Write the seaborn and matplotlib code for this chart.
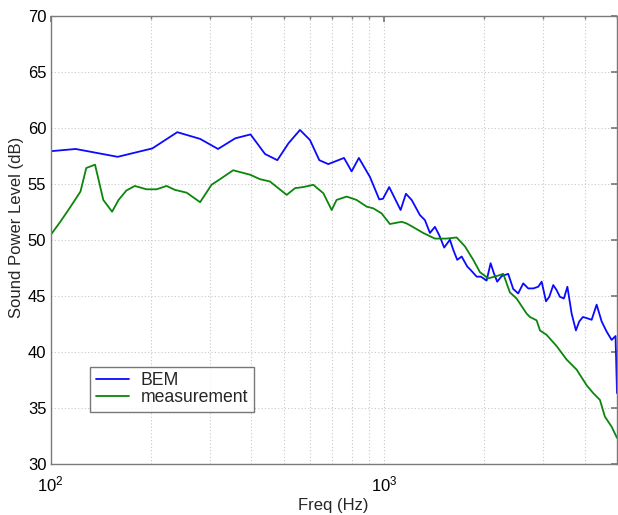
import numpy as np
import pandas as pd
import matplotlib
matplotlib.use("Agg")
import matplotlib.pyplot as plt
from matplotlib.ticker import LogLocator, FixedLocator, NullFormatter, FuncFormatter
import seaborn as sns

# BEM prediction of radiated sound power
bem_freq = [100, 119, 159, 202, 240, 281, 318, 358, 398, 440, 479, 517, 560, 600, 640,
            681, 759, 800, 841, 908, 968, 993, 1037, 1122, 1164, 1211, 1282, 1327, 1374, 1422,
            1465, 1516, 1577, 1614, 1659, 1710, 1778, 1820, 1897, 1954, 2032, 2089, 2137, 2186,
            2254, 2359, 2442, 2527, 2617, 2709, 2805, 2902, 2972, 3062, 3132, 3220, 3295, 3371,
            3465, 3550, 3655, 3765, 3852, 3952, 4055, 4197, 4344, 4497, 4654, 4818, 4950, 5000]
bem_level = [57.9, 58.1, 57.4, 58.15, 59.6, 59.0, 58.1, 59.05, 59.4, 57.65, 57.1, 58.6, 59.8,
             58.9, 57.1, 56.75, 57.3, 56.1, 57.3, 55.6, 53.6, 53.65, 54.7, 52.65, 54.1, 53.55,
             52.2, 51.75, 50.6, 51.15, 50.4, 49.3, 50.0, 49.1, 48.2, 48.5, 47.6, 47.3, 46.7,
             46.7, 46.35, 47.9, 47.0, 46.25, 46.75, 46.95, 45.6, 45.2, 46.1, 45.65, 45.65, 45.8,
             46.25, 44.5, 44.9, 45.95, 45.5, 44.9, 44.75, 45.8, 43.4, 41.9, 42.7, 43.1, 43.0,
             42.85, 44.2, 42.7, 41.8, 41.05, 41.4, 36.3]

# Measured sound power
meas_freq = [100, 107, 114, 123, 128, 136, 144, 153, 160, 169, 179, 194, 208, 223, 236, 256,
             281, 304, 326, 353, 397, 425, 455, 511, 541, 573, 614, 658, 697, 721, 773, 828,
             888, 929, 984, 1042, 1130, 1170, 1211, 1312, 1422, 1542, 1652, 1750, 1853, 1941,
             2054, 2177, 2280, 2386, 2499, 2679, 2741, 2870, 2937, 3076, 3295, 3530, 3783,
             4055, 4243, 4443, 4600, 4818, 5000]
meas_level = [50.4, 51.6, 52.8, 54.3, 56.4, 56.7, 53.55, 52.5, 53.55, 54.4, 54.8, 54.5, 54.5,
              54.8, 54.45, 54.2, 53.35, 54.9, 55.5, 56.2, 55.8, 55.4, 55.2, 54.0, 54.6, 54.7,
              54.9, 54.15, 52.65, 53.55, 53.85, 53.55, 52.95, 52.8, 52.35, 51.4, 51.6, 51.45,
              51.2, 50.6, 50.1, 50.1, 50.2, 49.4, 48.2, 47.1, 46.55, 46.75, 46.95, 45.3, 44.75,
              43.4, 43.1, 42.8, 41.9, 41.5, 40.5, 39.3, 38.4, 37.0, 36.3, 35.7, 34.2, 33.3, 32.3]

series_names = ["BEM", "measurement"]
series_colors = ["#0a0aff", "#0b860b"]
y_ticks = [30, 35, 40, 45, 50, 55, 60, 65, 70]

sns.set_theme(style="white")
plt.rcParams["font.family"] = ["Liberation Sans", "DejaVu Sans"]
plt.rcParams["mathtext.default"] = "regular"

df = pd.concat([
    pd.DataFrame({"freq": bem_freq, "level": bem_level, "series": series_names[0]}),
    pd.DataFrame({"freq": meas_freq, "level": meas_level, "series": series_names[1]}),
], ignore_index=True)

fig = plt.figure(figsize=(6.18, 5.15), dpi=100)
ax = fig.add_axes([50.5 / 618, (515 - 463.7) / 515, 566.5 / 618, 448 / 515])

sns.lineplot(data=df, x="freq", y="level", hue="series", hue_order=series_names,
             palette=series_colors, estimator=None, sort=False, linewidth=1.3, ax=ax)

ax.set_xscale("log")
ax.set_xlim(100, 5000)
ax.set_ylim(30, 70)
ax.yaxis.set_major_locator(FixedLocator(y_ticks))
ax.xaxis.set_major_locator(LogLocator(base=10))
ax.xaxis.set_minor_locator(LogLocator(base=10, subs=np.arange(2, 10)))
ax.xaxis.set_minor_formatter(NullFormatter())
ax.xaxis.set_major_formatter(FuncFormatter(lambda v, p: r"$10^{%d}$" % round(np.log10(v))))

# dotted grid on major y ticks and all x decades/sub-decades
grid_kw = dict(color="#c8c8c8", linestyle=(0, (1, 2)), linewidth=0.8)
ax.grid(True, which="major", axis="both", **grid_kw)
ax.grid(True, which="minor", axis="x", **grid_kw)

for s in ax.spines.values():
    s.set_visible(True)
    s.set_color("#7a7a7a")
    s.set_linewidth(1.0)

ax.tick_params(which="both", direction="in", top=True, right=True, color="#7a7a7a",
               labelsize=12, labelcolor="black")
ax.tick_params(axis="y", pad=3)
ax.tick_params(axis="x", pad=8)
ax.tick_params(which="major", length=4)
ax.tick_params(which="minor", length=2.5)

ax.set_xlabel("Freq (Hz)", fontsize=12, labelpad=2.5)
ax.set_ylabel("Sound Power Level (dB)", fontsize=12)
ax.yaxis.set_label_coords(-0.046, 0.528)

leg = ax.legend(loc="lower left",
                bbox_to_anchor=((90 - 50.5) / 566.5, (463.7 - 412) / 448),
                borderaxespad=0, fontsize=12.7, frameon=True, fancybox=False,
                handlelength=1.9, handletextpad=0.65, labelspacing=0.0, borderpad=0.32)
leg.get_frame().set_edgecolor("#555555")
leg.get_frame().set_linewidth(1.0)
for h in leg.get_lines():
    h.set_linewidth(1.3)

fig.savefig("out.png", dpi=100)
